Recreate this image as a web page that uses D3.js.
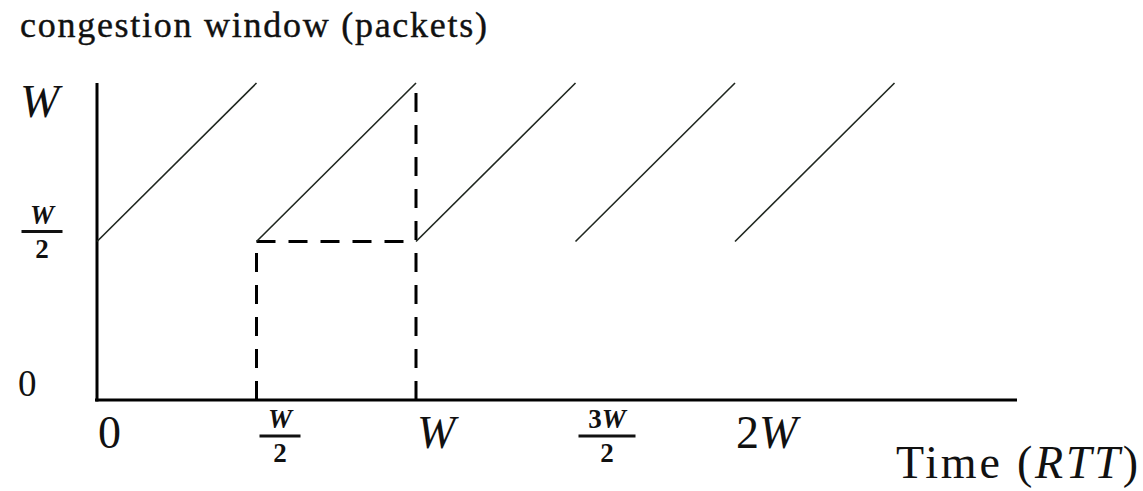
<!DOCTYPE html>
<html>
<head>
<meta charset="utf-8">
<script src="https://cdn.jsdelivr.net/npm/d3@7"></script>
</head>
<body style="margin:0;background:#fff">
<script>
// TCP congestion window sawtooth (AIMD): window in packets vs. time in RTTs.
// Each additive-increase ramp: [start time, start window] -> [end time, end window], times in units of W RTTs
const rampStarts = [0, 0.5, 1.0, 1.5, 2.0];
const rampEnds   = [0.5, 1.0, 1.5, 2.0, 2.5];
const rampLow    = [0.5, 0.5, 0.5, 0.5, 0.5];
const rampHigh   = [1, 1, 1, 1, 1];
// Dashed guides marking one period between W/2 and W
const guides = [
  [[0.5, 0], [0.5, 0.5]],
  [[0.5, 0.5], [1.0, 0.5]],
  [[1.0, 0], [1.0, 1.0]]
];
const xTickValues = [0, 0.5, 1, 1.5, 2];
const xTickLabels = ["0", "W/2", "W", "3W/2", "2W"];
const yTickValues = [0, 0.5, 1];
const yTickLabels = ["0", "W/2", "W"];
const titleText = "congestion window (packets)";

const FONT = '"Liberation Serif"';
const width = 1143, height = 491;
const svg = d3.select("body").append("svg")
  .attr("width", width).attr("height", height)
  .style("display", "block");

function txt(g, size) {
  return g.append("text").attr("font-size", size)
    .style("font-family", FONT).attr("fill", "#111");
}

const x = d3.scaleLinear().domain([0, 2.884]).range([97, 1017]);
const y = d3.scaleLinear().domain([0, 1]).range([400, 83]);

// Axes (plain lines, labels drawn separately)
const xAxis = d3.axisBottom(x).tickValues([]).tickSizeOuter(0);
const yAxis = d3.axisLeft(y).tickValues([]).tickSizeOuter(0);
svg.append("g").attr("transform", `translate(0,${y(0)})`).call(xAxis)
  .call(g => g.select(".domain").attr("stroke", "#000").attr("stroke-width", 3)
    .attr("d", `M${x(0) - 2},0H${x(2.884)}`));
svg.append("g").attr("transform", `translate(${x(0)},0)`).call(yAxis)
  .call(g => g.select(".domain").attr("stroke", "#000").attr("stroke-width", 3)
    .attr("d", `M0,${y(0) + 1.5}V${y(1)}`));

// Dashed guides
const line = d3.line().x(d => x(d[0])).y(d => y(d[1]));
svg.append("g").selectAll("path").data(guides).join("path")
  .attr("d", line)
  .attr("fill", "none")
  .attr("stroke", "#000")
  .attr("stroke-width", 3)
  .attr("stroke-dasharray", "19,13");

// Sawtooth ramps
const ramps = rampStarts.map((t, i) => [[t, rampLow[i]], [rampEnds[i], rampHigh[i]]]);
svg.append("g").selectAll("path").data(ramps).join("path")
  .attr("d", line)
  .attr("fill", "none")
  .attr("stroke", "#1f261f")
  .attr("stroke-width", 1.6);

// Label helper: handles plain, italic W and fraction forms
function addRich(sel, str) {
  for (const ch of str) {
    sel.append("tspan").text(ch).style("font-style", ch === "W" ? "italic" : "normal");
  }
}
function drawLabel(g, label, xPos, baseY, big, small) {
  const parts = label.split("/");
  if (parts.length === 1) {
    addRich(txt(g, big).attr("x", xPos).attr("y", baseY), parts[0]);
  } else {
    const num = txt(g, small).attr("x", xPos).attr("y", baseY - 21)
      .attr("text-anchor", "middle").attr("font-weight", "bold");
    addRich(num, parts[0]);
    const bw = parts[0].length > 1 ? 57 : 41;
    g.append("line").attr("x1", xPos - bw / 2).attr("x2", xPos + bw / 2)
      .attr("y1", baseY - 13).attr("y2", baseY - 13)
      .attr("stroke", "#111").attr("stroke-width", 3);
    txt(g, small).attr("x", xPos).attr("y", baseY + 13)
      .attr("text-anchor", "middle").attr("font-weight", "bold")
      .text(parts[1]);
  }
}

// X tick labels
const gx = svg.append("g");
xTickValues.forEach((v, i) => {
  const lab = xTickLabels[i];
  if (lab.includes("/")) {
    const bw = lab.split("/")[0].length > 1 ? 57 : 41;
    drawLabel(gx, lab, x(v) + 3 + bw / 2, 449, 46, 27);
  } else {
    drawLabel(gx, lab, x(v) + 1, 448, 46, 27);
  }
});

// Y tick labels
const gy = svg.append("g");
yTickValues.forEach((v, i) => {
  const lab = yTickLabels[i];
  if (lab.includes("/")) {
    drawLabel(gy, lab, 42, y(v) + 3, 46, 27);
  } else if (lab === "0") {
    txt(gy, 37).attr("x", 18).attr("y", 396).text(lab);
  } else {
    drawLabel(gy, lab, 20, y(v) + 34, 47, 27);
  }
});

// Axis titles
txt(svg, 36).attr("x", 20).attr("y", 37)
  .attr("textLength", 467).attr("lengthAdjust", "spacing")
  .attr("stroke", "#111").attr("stroke-width", 0.4)
  .text(titleText);

const xt = txt(svg, 46).attr("x", 896).attr("y", 478)
  .attr("textLength", 242).attr("lengthAdjust", "spacing");
xt.append("tspan").text("Time (");
xt.append("tspan").style("font-style", "italic").text("RTT");
xt.append("tspan").text(")");
</script>
</body>
</html>
